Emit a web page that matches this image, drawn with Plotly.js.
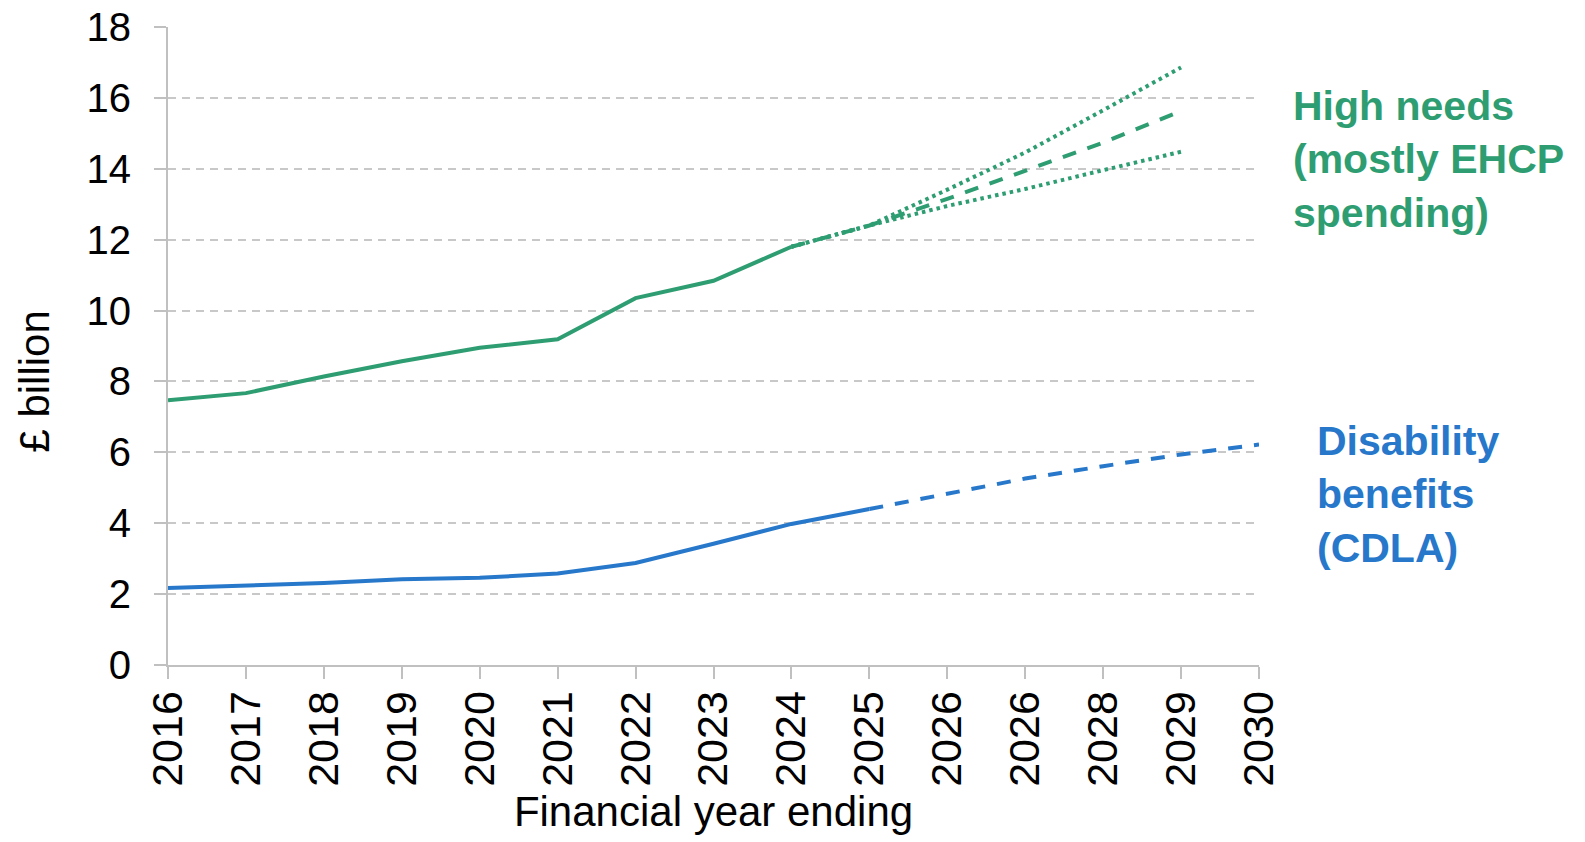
<!DOCTYPE html>
<html>
<head>
<meta charset="utf-8">
<script src="https://cdn.plot.ly/plotly-3.0.1.min.js"></script>
<style>
  html, body { margin: 0; padding: 0; background: #ffffff; }
  #chart { width: 1585px; height: 842px; }
</style>
</head>
<body>
<div id="chart"></div>
<script>
// Category labels along the x axis (as printed in the source, including the repeated 2026)
const yearLabels = ['2016','2017','2018','2019','2020','2021','2022','2023','2024','2025','2026','2026','2028','2029','2030'];

// High needs (mostly EHCP spending), £ billion
const highNeedsOutturn = [7.47, 7.67, 8.14, 8.57, 8.95, 9.19, 10.35, 10.84, 11.80];   // 2016–2024
const highNeedsCentral = [11.80, 12.40, 13.15, 13.94, 14.74, 15.63];                  // 2024–2029
const highNeedsHigh    = [11.80, 12.40, 13.41, 14.46, 15.65, 16.86];                  // 2024–2029
const highNeedsLow     = [11.80, 12.40, 12.95, 13.43, 13.96, 14.48];                  // 2024–2029

// Disability benefits (CDLA), £ billion
const cdlaOutturn  = [2.17, 2.23, 2.31, 2.42, 2.46, 2.58, 2.88, 3.42, 3.98, 4.40];    // 2016–2025
const cdlaForecast = [4.40, 4.82, 5.26, 5.61, 5.94, 6.22];                           // 2025–2030

const GREEN = '#2E9E72';
const BLUE  = '#2778CB';
const FONT  = '"Liberation Sans", Arial, Helvetica, sans-serif';

// category positions
const idx = yearLabels.map((_, i) => i);
const seg = (start, arr) => arr.map((_, i) => start + i);

const traces = [
  { x: seg(0, highNeedsOutturn), y: highNeedsOutturn, mode: 'lines', name: 'High needs (outturn)',
    line: { color: GREEN, width: 4 } },
  { x: seg(8, highNeedsHigh), y: highNeedsHigh, mode: 'lines', name: 'High needs (high)',
    line: { color: GREEN, width: 4, dash: '3.5px,4px' } },
  { x: seg(8, highNeedsLow), y: highNeedsLow, mode: 'lines', name: 'High needs (low)',
    line: { color: GREEN, width: 4, dash: '3.5px,4px' } },
  { x: seg(8, highNeedsCentral), y: highNeedsCentral, mode: 'lines', name: 'High needs (central)',
    line: { color: GREEN, width: 4, dash: '14px,12px' } },
  { x: seg(0, cdlaOutturn), y: cdlaOutturn, mode: 'lines', name: 'CDLA (outturn)',
    line: { color: BLUE, width: 4 } },
  { x: seg(9, cdlaForecast), y: cdlaForecast, mode: 'lines', name: 'CDLA (forecast)',
    line: { color: BLUE, width: 4, dash: '14px,12px' } }
];

const layout = {
  width: 1585,
  height: 842,
  margin: { l: 168, r: 326, t: 27, b: 177 },
  paper_bgcolor: '#ffffff',
  plot_bgcolor: '#ffffff',
  showlegend: false,
  font: { family: FONT, color: '#000000' },
  xaxis: {
    range: [0, 14],
    tickmode: 'array',
    tickvals: idx,
    ticktext: yearLabels,
    tickangle: -90,
    tickfont: { family: FONT, size: 43, color: '#000000' },
    ticks: 'outside',
    ticklen: 12,
    tickwidth: 2,
    tickcolor: '#C0C0C0',
    ticklabelstandoff: -5,
    showline: true,
    linecolor: '#C0C0C0',
    linewidth: 2,
    showgrid: false,
    zeroline: false,
    title: { text: 'Financial year ending', font: { family: FONT, size: 42, color: '#000000' }, standoff: 11 }
  },
  yaxis: {
    range: [0, 18],
    tickmode: 'linear',
    tick0: 0,
    dtick: 2,
    tickfont: { family: FONT, size: 40, color: '#000000' },
    ticks: 'outside',
    ticklen: 12,
    tickwidth: 2,
    tickcolor: '#C0C0C0',
    ticklabelstandoff: 15,
    showline: true,
    linecolor: '#C0C0C0',
    linewidth: 2,
    showgrid: true,
    gridcolor: '#C8C8C8',
    gridwidth: 2,
    griddash: '8px,6px',
    zeroline: false
  },
  annotations: [
    { text: '£ billion', xref: 'paper', yref: 'paper', x: -0.122, y: 0.444,
      xanchor: 'center', yanchor: 'middle', textangle: -90, showarrow: false,
      font: { family: FONT, size: 42, color: '#000000' } },
    { text: '<b>High needs<br>(mostly EHCP<br>spending)</b>', xref: 'paper', yref: 'paper',
      x: 1.029, y: 0.793, xanchor: 'left', yanchor: 'middle', align: 'left', showarrow: false,
      font: { family: FONT, size: 41, color: GREEN } },
    { text: '<b>Disability<br>benefits<br>(CDLA)</b>', xref: 'paper', yref: 'paper',
      x: 1.051, y: 0.2665, xanchor: 'left', yanchor: 'middle', align: 'left', showarrow: false,
      font: { family: FONT, size: 41, color: BLUE } }
  ]
};

Plotly.newPlot('chart', traces, layout, { displayModeBar: false, staticPlot: true });
</script>
</body>
</html>
